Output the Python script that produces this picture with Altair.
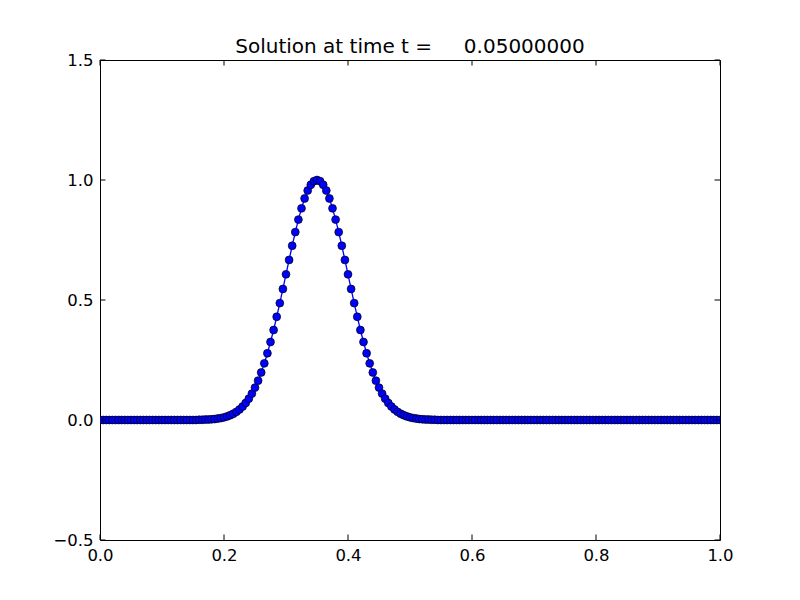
import altair as alt
import pandas as pd

# grid: 201 points from 0.0 to 1.0, step 0.005
x_values = [round(i * 0.005, 3) for i in range(201)]

# solution values (pulse centered near x = 0.35)
left_zeros = [0.0] * 32
pulse = [0.001, 0.001, 0.002, 0.002, 0.003, 0.004, 0.006, 0.008, 0.011, 0.015,
         0.020, 0.026, 0.034, 0.044, 0.056, 0.071, 0.089, 0.110, 0.135, 0.164,
         0.198, 0.236, 0.278, 0.325, 0.375, 0.430, 0.487, 0.546, 0.607, 0.667,
         0.726, 0.783, 0.835, 0.882, 0.923, 0.956, 0.980, 0.995,
         1.000,
         0.995, 0.980, 0.956, 0.923, 0.882, 0.835, 0.783, 0.726, 0.667, 0.607,
         0.546, 0.487, 0.430, 0.375, 0.325, 0.278, 0.236, 0.198, 0.164, 0.135,
         0.110, 0.089, 0.071, 0.056, 0.044, 0.034, 0.026, 0.020, 0.015, 0.011,
         0.008, 0.006, 0.004, 0.003, 0.002, 0.002, 0.001, 0.001]
right_zeros = [0.0] * 92
u_values = left_zeros + pulse + right_zeros

x_ticks = [0.0, 0.2, 0.4, 0.6, 0.8, 1.0]
y_ticks = [-0.5, 0.0, 0.5, 1.0, 1.5]

title_text = "Solution at time t =" + "\u00a0" * 5 + "0.05000000"

W, H = 620, 480
TL = 5.5
FONT = "DejaVu Sans"

df = pd.DataFrame({"x": x_values, "u": u_values})
dfx = pd.DataFrame({"x": x_ticks})
dfy = pd.DataFrame({"u": y_ticks})
dft = pd.DataFrame({"t": [title_text]})

xscale = alt.Scale(domain=[0, 1], nice=False, zero=False)
yscale = alt.Scale(domain=[-0.5, 1.5], nice=False, zero=False)

xaxis = alt.Axis(values=x_ticks, format=".1f", title=None, grid=False, domain=False,
                 tickSize=0, labelPadding=7, labelFont=FONT, labelFontSize=16.5,
                 labelColor="black", labelFlush=False)
yaxis = alt.Axis(values=y_ticks, format=".1f", title=None, grid=False, domain=False,
                 tickSize=0, labelPadding=7, labelFont=FONT, labelFontSize=16.5,
                 labelColor="black", labelFlush=False)

base = alt.Chart(df)
line = base.mark_line(color="#0000ff", strokeWidth=1.3, clip=True).encode(
    x=alt.X("x:Q", scale=xscale, axis=xaxis),
    y=alt.Y("u:Q", scale=yscale, axis=yaxis),
)
pts = base.mark_point(shape="circle", filled=True, fill="#0000ff", stroke="black",
                      strokeWidth=0.7, size=62, opacity=1, clip=True).encode(
    x=alt.X("x:Q", scale=xscale),
    y=alt.Y("u:Q", scale=yscale),
)

tick_bottom = alt.Chart(dfx).mark_rule(color="black", strokeWidth=1).encode(
    x=alt.X("x:Q", scale=xscale), y=alt.value(H), y2=alt.value(H - TL))
tick_top = alt.Chart(dfx).mark_rule(color="black", strokeWidth=1).encode(
    x=alt.X("x:Q", scale=xscale), y=alt.value(0), y2=alt.value(TL))
tick_left = alt.Chart(dfy).mark_rule(color="black", strokeWidth=1).encode(
    y=alt.Y("u:Q", scale=yscale), x=alt.value(0), x2=alt.value(TL))
tick_right = alt.Chart(dfy).mark_rule(color="black", strokeWidth=1).encode(
    y=alt.Y("u:Q", scale=yscale), x=alt.value(W), x2=alt.value(W - TL))

title = alt.Chart(dft).mark_text(font=FONT, fontSize=20, color="black", align="center",
                                 baseline="alphabetic").encode(
    text="t:N", x=alt.value(W / 2), y=alt.value(-7))

chart = alt.layer(line, pts, tick_bottom, tick_top, tick_left, tick_right, title).properties(
    width=W, height=H,
    autosize=alt.AutoSizeParams(type="none"),
    padding={"left": 92, "top": 52, "right": 72, "bottom": 52},
).configure(background="white").configure_view(stroke="black", strokeWidth=1)

chart.save("out.html", embed_options={"renderer": "svg", "actions": False})
